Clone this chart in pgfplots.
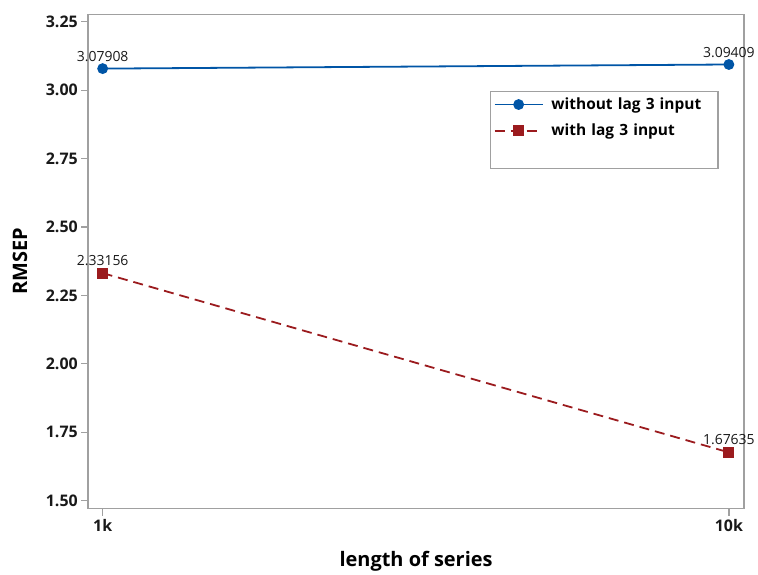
\documentclass[border=0pt]{standalone}
\usepackage{pgfplots}
\pgfplotsset{compat=1.18}
\usepackage{fontspec}
\setmainfont{Open Sans}
\definecolor{mtblue}{HTML}{0055A6}
\definecolor{mtred}{HTML}{9B1B1E}
\definecolor{axgray}{HTML}{A0A0A0}
\begin{document}
\begin{tikzpicture}
\begin{axis}[
  at={(0,0)}, anchor=south west,
  scale only axis,
  width=657.5pt, height=495.5pt,
  xmin=-0.023, xmax=1.024,
  ymin=1.471, ymax=3.277,
  xtick={0,1}, xticklabels={1k,10k},
  ytick={1.5,1.75,2,2.25,2.5,2.75,3,3.25},
  yticklabel style={/pgf/number format/.cd,fixed,fixed zerofill,precision=2},
  /pgf/number format/assume math mode=true,
  tick label style={font=\fontsize{16}{18}\selectfont\bfseries, text=black!90},
  axis line style={axgray, line width=1.6pt},
  tick style={axgray, line width=1.3pt},
  tick align=outside, major tick length=7pt,
  xtick pos=bottom, ytick pos=left,
  clip=false,
  xlabel={length of series},
  ylabel={RMSEP},
  label style={font=\fontsize{20}{22}\selectfont\bfseries},
  xlabel style={at={(axis description cs:0.5,-0.106)}, anchor=center},
  ylabel style={at={(axis description cs:-0.104,0.5)}, anchor=center},
  legend style={at={(axis description cs:0.6137,0.8436)}, anchor=north west,
    draw=none, fill=none, font=\fontsize{15.5}{17}\selectfont\bfseries,
    inner xsep=3pt, inner ysep=4pt, row sep=9pt,
    legend cell align=left, text width=170pt},
  legend image code/.code={%
    \draw[mark repeat=2,mark phase=2] plot coordinates {(0pt,0pt)(24pt,0pt)(48pt,0pt)};},
  nodes near coords,
  point meta=explicit symbolic,
  every node near coord/.style={font=\fontsize{14}{16}\selectfont, text=black!90, anchor=south, yshift=3pt},
]
\draw[axgray, line width=1.3pt] (axis description cs:0.6137,0.8436) rectangle (axis description cs:0.9605,0.6882);
\addplot[mtblue, line width=1.8pt, mark=*, mark size=4.5pt, mark options={solid, fill=mtblue}]
  coordinates {(0,3.07908) [3.07908] (1,3.09409) [3.09409]};
\addlegendentry{\hspace{6pt}without lag 3 input}
\addplot[mtred, line width=1.8pt, dash pattern=on 10pt off 6pt, mark=square*, mark size=4.5pt, mark options={solid, fill=mtred}]
  coordinates {(0,2.33156) [2.33156] (1,1.67635) [1.67635]};
\addlegendentry{\hspace{6pt}with lag 3 input}
\end{axis}
\useasboundingbox (-88.5pt,-60pt) rectangle (669.5pt,510pt);
\end{tikzpicture}
\end{document}
